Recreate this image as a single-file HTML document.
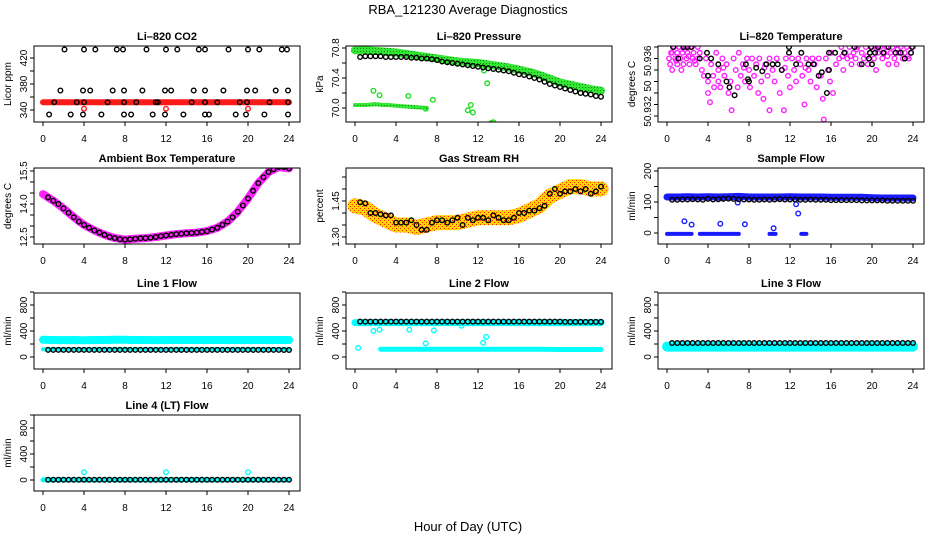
<!DOCTYPE html>
<html><head><meta charset="utf-8"><style>
html,body{margin:0;padding:0;background:#fff}
svg{display:block}
text{font-family:"Liberation Sans",sans-serif;fill:#000}
.t{font-size:11px;font-weight:bold}
.k{font-size:10px}
</style></head><body>
<svg id="fig" width="936" height="540" viewBox="0 0 936 540" xmlns="http://www.w3.org/2000/svg">
<defs>
<pattern id="rhpat" width="4" height="4" patternUnits="userSpaceOnUse"><rect width="4" height="4" fill="#ffd400"/><rect x="0" y="0" width="1" height="1" fill="#ff2000"/><rect x="2" y="2" width="1" height="1" fill="#ff2000"/></pattern>
<pattern id="grpat" width="3" height="3" patternUnits="userSpaceOnUse"><rect width="3" height="3" fill="#33e633"/><rect width="1" height="1" fill="#118811"/></pattern>
</defs>
<text x="468" y="14" text-anchor="middle" font-size="13">RBA_121230  Average Diagnostics</text>
<text x="468" y="531" text-anchor="middle" font-size="13">Hour of Day (UTC)</text>
</svg>
<script>
// ---- shared data ----
const xTicks = [0,4,8,12,16,20,24];
const blackHours = [0.5,1,1.5,2,2.5,3,3.5,4,4.5,5,5.5,6,6.5,7,7.5,8,8.5,9,9.5,10,10.5,11,11.5,12,12.5,13,13.5,14,14.5,15,15.5,16,16.5,17,17.5,18,18.5,19,19.5,20,20.5,21,21.5,22,22.5,23,23.5,24];
const bandHours = [0,1,2,3,4,5,6,7,8,9,10,11,12,13,14,15,16,17,18,19,20,21,22,23,24];

// CO2
const co2Band = [352,352,352,352,352,352,352,352,352,352,352,352,352,352,352,352,352,352,352,352,352,352,352,352,352];
const co2BlackHours = [2.1,4,5.1,7.2,7.8,10.1,12,13.1,15.2,15.8,18.1,20,21.1,23.3,23.8, 1.7,3.9,4.6,6.8,7.9,9.7,11.9,12.5,14.7,15.8,17.6,19.9,20.7,22.7,23.9, 1.1,3.3,4,6.3,7.9,9.1,11,11.2,14.5,15.8,17,19.2,19.9,22.1,23.9, 0.6,2.7,3.9,5.7,7.9,8.6,10.7,11.9,13.7,15.8,16.2,18.8,19.8,21.6,23.9];
const co2BlackVals = [433,433,433,433,433,433,433,433,433,433,433,433,433,433,433, 370,370,370,370,370,370,370,370,370,370,370,370,370,370,370, 352,352,352,352,352,352,352,352,352,352,352,352,352,352,352, 333,333,333,333,333,333,333,333,333,333,333,333,333,333,333];
const co2RedHours = [4,12,20];
const co2RedVals = [342,342,342];

// Pressure
const presGreen = [70.77,70.77,70.76,70.75,70.74,70.72,70.70,70.68,70.66,70.64,70.62,70.61,70.60,70.58,70.56,70.54,70.51,70.48,70.44,70.39,70.34,70.31,70.28,70.25,70.23];
const presBlack = [70.68,70.69,70.69,70.69,70.69,70.68,70.68,70.68,70.68,70.68,70.67,70.67,70.66,70.66,70.65,70.64,70.62,70.61,70.60,70.59,70.58,70.57,70.56,70.55,70.54,70.53,70.52,70.51,70.50,70.49,70.47,70.45,70.44,70.42,70.40,70.38,70.35,70.32,70.30,70.28,70.26,70.24,70.22,70.20,70.19,70.18,70.16,70.15];
const presLowHours = [0,1,2,2.8,3.3,4,5,6,7];
const presLowVals = [70.04,70.04,70.05,70.04,70.04,70.03,70.02,70.01,70.0];
const presOutHours = [1.8,2.4,5.2,7.6,6.9,11,11.3,11.5,12.6,12.9,13.3,13.5];
const presOutVals = [70.23,70.17,70.16,70.11,69.99,69.97,70.04,69.94,70.5,70.33,69.8,69.81];

// Li-820 temperature (tick units: 0 = 50.932)
const tempMagHours = [0.2,0.3,0.5,0.7,0.8,1,1,1.2,1.3,1.5,1.6,1.8,1.9,2,2.2,2.3,2.5,2.6,2.8,3,3,3.2,3.4,0.5,1.4,3.6,3.8,4,4,4.2,4.3,4.5,4.6,4.8,5,5,5.2,5.4,5.6,5.8,6,6.2,6.3,6.5,6.7,6.9,7,7.2,7.4,7.6,7.8,8,8.1,8.3,8.5,8.7,8.9,9,9.2,9.4,9.6,9.8,10,10,10.3,10.5,10.7,11,11.2,11.4,11.6,11.8,12,12.2,12.4,12.6,12.8,13,13.2,13.4,13.6,13.8,14,14.2,14.4,14.6,14.8,15,15.2,15.3,15.5,15.7,15.9,16,16.2,16.5,16.8,17,17.2,17.4,17.6,17.8,18,18.2,18.4,18.6,18.8,19,19.2,19.4,19.6,19.8,20,20.2,20.4,20.6,20.8,21,21.2,21.4,21.6,21.8,22,22.2,22.4,22.6,22.8,23,23.2,23.4,23.6,23.8,24,0.4,0.9,1.7,2.1,2.7,17.1,17.9,18.5,19.5,20.5,21.5,22.5,23.5,5.5,7.5,9.5,11.5,13.5];
const tempMagVals = [5,4.5,5.5,6,5,5.5,4.5,6,5,5.5,4.5,6,5,5.5,4.5,6,5,5.5,4.5,6,5,5.5,4,4,4,3.5,5,3,2,1.2,4.5,3.5,2.5,5.5,4,3,2.5,5,3.5,4.5,2,3,0.5,5,4,2.5,5.5,3.5,4.5,3,5,4,2.5,5,3.5,4.5,2,5,3,1.5,4.5,3.5,5,0.5,4,3,5,2,4,0.5,5,3.5,2.5,5,4,3,5,4.5,3.5,1,5,4,3,5,4.5,2.5,5,3.5,1.5,-0.3,5,4,3,5.5,2,4.5,5,6,4,5.5,5,6,4.5,5.5,5,6,4.5,5.5,5,6,4.5,5.5,6,5,4,5.5,6,5,5.5,6,4.5,5.5,6,5,4.5,5.5,6,5,5.5,6,5,5.5,6,5.5,4.8,5.8,5.2,4.8,5.2,5.2,5.8,5.2,5.8,5.2,5.8,5.2,4.2,4.2,4.2,4.2,4.2];
const tempBlackHours = [0.6,1.1,1.6,2,2.4,3.2,3.9,4,4.3,5,5.8,6.1,6.6,7.7,7.9,8,8.7,9.3,9.7,10.3,10.8,11.2,11.9,11.9,12.6,13.1,13.8,14.3,14.8,15.1,15.6,15.8,15.8,16.4,17.3,18.3,19,19.7,19.8,19.9,20,20.3,20.6,21.1,21.6,22.3,22.8,23.2,23.8,23.9];
const tempBlackVals = [6,5,6,6,6,5,5.5,3.5,5,4.5,3,2.5,1.8,4.5,3.2,3,4.2,3.9,4.5,4.5,4.5,4,6,5.5,4.5,5.5,4.5,4.5,3.5,3.8,2,5.5,4,5.5,5.5,6,4.5,5,5.5,6,4.5,5.5,6,5.5,6,5.5,5.5,5,5.5,6];

// Ambient box temperature
const ambBand = [14.45,14.15,13.8,13.4,13.05,12.8,12.6,12.45,12.38,12.42,12.45,12.5,12.57,12.63,12.67,12.7,12.77,12.92,13.2,13.65,14.25,14.95,15.45,15.68,15.62];
const ambBlack = [14.3,14.15,14.0,13.8,13.6,13.4,13.2,13.05,12.92,12.8,12.7,12.6,12.5,12.45,12.4,12.38,12.4,12.42,12.44,12.45,12.47,12.5,12.54,12.57,12.6,12.63,12.65,12.67,12.68,12.7,12.73,12.77,12.84,12.92,13.05,13.2,13.4,13.65,13.93,14.25,14.6,14.95,15.22,15.45,15.58,15.68,15.68,15.62];

// Gas stream RH
const rhBand = [1.43,1.42,1.39,1.37,1.35,1.35,1.34,1.35,1.36,1.36,1.36,1.37,1.38,1.38,1.38,1.38,1.39,1.41,1.43,1.47,1.49,1.51,1.51,1.50,1.50];
const rhBlack = [1.445,1.44,1.40,1.40,1.395,1.39,1.39,1.36,1.36,1.36,1.37,1.35,1.33,1.33,1.36,1.37,1.37,1.36,1.37,1.38,1.35,1.38,1.37,1.38,1.38,1.37,1.39,1.38,1.37,1.37,1.38,1.40,1.40,1.41,1.41,1.42,1.43,1.48,1.50,1.48,1.49,1.49,1.50,1.49,1.50,1.48,1.49,1.51];

// Sample flow
const sampBand = [116,116,117,116,117,116,117,118,116,116,116,116,117,116,116,116,115,115,115,115,114,113,113,113,113];
const sampBlack = [107,107,108,108,109,108,107,110,108,109,110,111,110,109,108,108,107,107,108,107,108,109,108,108,108,107,107,108,107,107,107,106,106,106,106,106,106,105,105,105,105,105,104,104,104,104,104,104];
const sampLowStart = [0,3.2,10,13.1];
const sampLowEnd = [2.4,7.0,10.6,13.6];
const sampLowVal = [-3,-3,-3,-3];
const sampOutHours = [1.7,2.4,5.2,6.9,7.6,10.4,12.6,12.8];
const sampOutVals = [38,27,30,98,28,15,93,63];

// Line flows
const l1Band = [265,262,260,262,258,262,262,265,265,262,262,260,262,262,262,262,262,262,262,262,262,262,262,262,262];
const l1Low = [120,120,120,120,120,120,120,120,120,120,120,120,120,120,120,120,120,120,120,120,120,120,120,120,120];
const l1Black = [110,110,110,110,110,110,110,110,110,110,110,110,110,110,110,110,110,110,110,110,110,110,110,110,110,110,110,110,110,110,110,110,110,110,110,110,110,110,110,110,110,110,110,110,110,110,108,108];
const l2Band = [530,530,530,530,530,530,530,530,530,530,530,530,530,530,530,530,530,530,530,530,530,530,530,530,530];
const l2Black = [545,545,545,545,545,545,545,545,545,545,545,545,545,545,545,545,545,545,545,545,545,545,545,545,545,545,545,545,545,545,545,545,545,545,545,545,545,545,545,545,540,540,540,540,540,540,540,540];
const l2LowHours = [2.5,4,6,8,10,12,14,16,18,20,22,24];
const l2LowVals = [120,120,120,120,120,120,120,120,120,115,115,115];
const l2OutHours = [0.3,1.8,2.4,5.3,7.7,10.4,12.5,12.8,6.9];
const l2OutVals = [140,400,420,420,410,480,220,310,210];
const l3Band = [160,160,160,160,160,160,160,160,160,160,160,160,160,160,160,160,160,160,160,160,160,160,160,160,160];
const l3Black = [215,215,215,215,215,215,215,215,215,215,215,215,215,215,215,215,215,215,215,215,215,215,215,215,215,215,215,215,215,215,215,215,215,215,215,215,215,215,215,215,215,215,215,215,215,215,215,215];
const l4Band = [2,2,2,2,2,2,2,2,2,2,2,2,2,2,2,2,2,2,2,2,2,2,2,2,2];
const l4Black = [5,5,5,5,5,5,5,5,5,5,5,5,5,5,5,5,5,5,5,5,5,5,5,5,5,5,5,5,5,5,5,5,5,5,5,5,5,5,5,5,5,5,5,5,5,5,5,5];
const l4OutHours = [4,12,20];
const l4OutVals = [120,120,120];

// ---- geometry ----
const NS = "http://www.w3.org/2000/svg";
const svg = document.getElementById('fig');
const colLeft = [34,346,658];
const rowTop = [46,168,293,415];
const boxW = 266, boxH = 76;

function mk(tag, attrs, name, parent){
  const el = document.createElementNS(NS, tag);
  for (const k in attrs) el.setAttribute(k, attrs[k]);
  
  
  (parent||svg).appendChild(el);
  return el;
}
function panel(c, r, title, ylab, yv0, yp0, yv1, yp1, ticks, labels, labelText){
  const L = colLeft[c], T = rowTop[r];
  const g = mk('g', {}, 'panel-' + title.toLowerCase().replace(/[^a-z0-9]+/g,'-'));
  const xs = h => L + 9 + h * 10.25;
  const ys = v => T + yp0 + (v - yv0) * (yp1 - yp0) / (yv1 - yv0);
  const clipId = 'clip' + c + r;
  const cp = mk('clipPath', {id: clipId}, 'plot-clip', g);
  mk('rect', {x: L, y: T, width: boxW, height: boxH}, 'clip-rect', cp);
  const plot = mk('g', {'clip-path': 'url(#' + clipId + ')'}, 'plot-area', g);
  mk('text', {x: L + boxW/2, y: T - 6, 'text-anchor': 'middle', class: 't'}, 'panel-title', g).textContent = title;
  mk('text', {x: 0, y: 0, 'text-anchor': 'middle', class: 'k', transform: 'translate(' + (L-23) + ',' + (T+boxH/2) + ') rotate(-90)'}, 'y-axis-title', g).textContent = ylab;
  mk('line', {x1: xs(0), x2: xs(24), y1: T+boxH, y2: T+boxH, stroke: '#000'}, 'x-axis-line', g);
  xTicks.forEach(t => {
    mk('line', {x1: xs(t), x2: xs(t), y1: T+boxH, y2: T+boxH+4, stroke: '#000'}, 'x-tick', g);
    mk('text', {x: xs(t), y: T+boxH+20, 'text-anchor': 'middle', class: 'k'}, 'x-tick-label', g).textContent = t;
  });
  ticks.forEach(t => {
    mk('line', {x1: L-4, x2: L, y1: ys(t), y2: ys(t), stroke: '#000'}, 'y-tick', g);
  });
  labels.forEach((t, i) => {
    mk('text', {x: 0, y: 0, 'text-anchor': 'middle', class: 'k', transform: 'translate(' + (L-7) + ',' + ys(t) + ') rotate(-90)'}, 'y-tick-label', g).textContent = labelText ? labelText[i] : t;
  });
  mk('rect', {x: L, y: T, width: boxW, height: boxH, fill: 'none', stroke: '#000'}, 'plot-box', g);
  return {xs, ys, plot, g};
}
function band(p, hours, vals, color, w, name){
  const pts = hours.map((h, i) => p.xs(h).toFixed(1) + ',' + p.ys(vals[i]).toFixed(1)).join(' ');
  mk('polyline', {points: pts, fill: 'none', stroke: color, 'stroke-width': w, 'stroke-linejoin': 'round', 'stroke-linecap': 'round'}, name, p.plot);
}
function dots(p, hours, vals, color, name){
  hours.forEach((h, i) => {
    mk('circle', {cx: p.xs(h).toFixed(1), cy: p.ys(vals[i]).toFixed(1), r: 2.3, fill: 'none', stroke: color, 'stroke-width': 1.4}, name, p.plot);
  });
}

let p = panel(0,0,'Li\u2013820 CO2','Licor ppm',340,64,420,12,[340,360,380,400,420],[340,380,420]);
band(p, bandHours, co2Band, '#ff1a1a', 6, 'co2-red-band');
dots(p, co2RedHours, co2RedVals, '#ff1a1a', 'co2-red-point');
dots(p, co2BlackHours, co2BlackVals, '#000', 'co2-black-point');

p = panel(1,0,'Li\u2013820 Pressure','kPa',70.0,62,70.8,2,[70.0,70.2,70.4,70.6,70.8],[70.0,70.4,70.8],['70.0','70.4','70.8']);
band(p, bandHours, presGreen, 'url(#grpat)', 8, 'pressure-green-band');
band(p, presLowHours, presLowVals, 'url(#grpat)', 4, 'pressure-green-low-band');
dots(p, presOutHours, presOutVals, '#22dd22', 'pressure-green-point');
dots(p, blackHours, presBlack, '#000', 'pressure-black-point');

p = panel(2,0,'Li\u2013820 Temperature','degrees C',0,70,6,1,[0,1,2,3,4,5,6],[0.4,2.6,4.8],['50.932','50','50.936']);
dots(p, tempMagHours, tempMagVals, '#ff22ff', 'temperature-magenta-point');
dots(p, tempBlackHours, tempBlackVals, '#000', 'temperature-black-point');

p = panel(0,1,'Ambient Box Temperature','degrees C',12.5,69,15.5,3,[12.5,13,13.5,14,14.5,15,15.5],[12.5,14.0,15.5],['12.5','14.0','15.5']);
band(p, bandHours, ambBand, '#ff22ff', 8, 'ambient-magenta-band');
dots(p, blackHours, ambBlack, '#000', 'ambient-black-point');

p = panel(1,1,'Gas Stream RH','percent',1.30,69,1.45,33,[1.30,1.35,1.40,1.45,1.50,1.55],[1.30,1.45],['1.30','1.45']);
band(p, bandHours, rhBand, 'url(#rhpat)', 15, 'rh-orange-band');
dots(p, blackHours, rhBlack, '#000', 'rh-black-point');

p = panel(2,1,'Sample Flow','ml/min',0,65,200,3,[0,50,100,150,200],[0,100,200]);
band(p, bandHours, sampBand, '#1a1aff', 7, 'sample-blue-band');
sampLowStart.forEach((s, i) => band(p, [s, sampLowEnd[i]], [sampLowVal[i], sampLowVal[i]], '#1a1aff', 4, 'sample-blue-low-band'));
dots(p, sampOutHours, sampOutVals, '#1a1aff', 'sample-blue-point');
dots(p, blackHours, sampBlack, '#000', 'sample-black-point');

const fT = [0,200,400,600,800,1000], fL = [0,400,800];
p = panel(0,2,'Line 1 Flow','ml/min',0,64,800,12,fT,fL);
band(p, bandHours, l1Band, '#00ffff', 8, 'line1-cyan-band');
band(p, bandHours, l1Low, '#00ffff', 4, 'line1-cyan-low-band');
dots(p, blackHours, l1Black, '#000', 'line1-black-point');
p = panel(1,2,'Line 2 Flow','ml/min',0,64,800,12,fT,fL);
band(p, bandHours, l2Band, '#00ffff', 7, 'line2-cyan-band');
band(p, l2LowHours, l2LowVals, '#00ffff', 5, 'line2-cyan-low-band');
dots(p, l2OutHours, l2OutVals, '#00ffff', 'line2-cyan-point');
dots(p, blackHours, l2Black, '#000', 'line2-black-point');
p = panel(2,2,'Line 3 Flow','ml/min',0,64,800,12,fT,fL);
band(p, bandHours, l3Band, '#00ffff', 10, 'line3-cyan-band');
dots(p, blackHours, l3Black, '#000', 'line3-black-point');
p = panel(0,3,'Line 4 (LT) Flow','ml/min',0,65,800,13,fT,fL);
band(p, bandHours, l4Band, '#00ffff', 5, 'line4-cyan-band');
dots(p, l4OutHours, l4OutVals, '#00ffff', 'line4-cyan-point');
dots(p, blackHours, l4Black, '#000', 'line4-black-point');
</script>
</body></html>
